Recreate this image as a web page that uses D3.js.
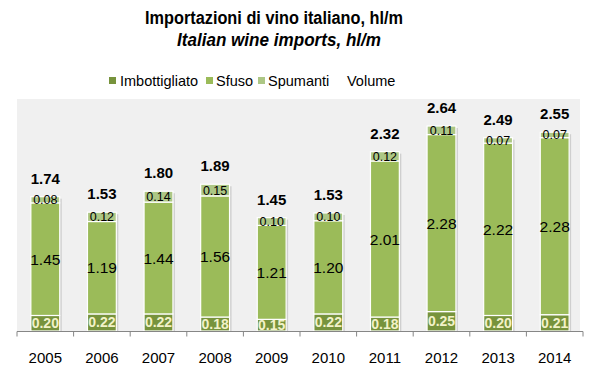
<!DOCTYPE html>
<html>
<head>
<meta charset="utf-8">
<script src="https://cdn.jsdelivr.net/npm/d3@7"></script>
<style>
  html, body { margin: 0; padding: 0; background: #fff; }
  svg { display: block; }
  text { font-family: "Liberation Sans", Arial, sans-serif; }
</style>
</head>
<body>
<svg id="chart" width="600" height="378"></svg>
<script>
const years = ["2005","2006","2007","2008","2009","2010","2011","2012","2013","2014"];
const imbottigliato = [0.20,0.22,0.22,0.18,0.15,0.22,0.18,0.25,0.20,0.21];
const sfuso = [1.45,1.19,1.44,1.56,1.21,1.20,2.01,2.28,2.22,2.28];
const spumanti = [0.08,0.12,0.14,0.15,0.10,0.10,0.12,0.11,0.07,0.07];
const volume = [1.74,1.53,1.80,1.89,1.45,1.53,2.32,2.64,2.49,2.55];
const seriesNames = ["Imbottigliato","Sfuso","Spumanti"];
const titleIt = "Importazioni di vino italiano, hl/m";
const titleEn = "Italian wine imports, hl/m";

const colors = ["#77933C", "#9BBB59", "#ADC785"];
const labelColors = ["#F2F2C8", "#000", "#000"];
const labelSizes = [14, 15.5, 12.5];
const labelWeights = ["bold", "normal", "normal"];

const svg = d3.select("#chart");

// plot background
const pLeft = 17, pRight = 583, pTop = 99, pBottom = 331;
svg.append("rect").attr("x", pLeft).attr("y", pTop).attr("width", 563).attr("height", pBottom - pTop).attr("fill", "#F0F0F0");

const x = d3.scaleBand().domain(years).range([pLeft, pRight]).paddingInner(0.49).paddingOuter(0.245);
const y = d3.scaleLinear().domain([0, 2.988]).range([pBottom, pTop]);

const rows = years.map((yr, i) => ({year: yr, Imbottigliato: imbottigliato[i], Sfuso: sfuso[i], Spumanti: spumanti[i]}));
const stacked = d3.stack().keys(seriesNames)(rows);

// shadows
const barTops = rows.map((r, i) => imbottigliato[i] + sfuso[i] + spumanti[i]);
svg.append("g").selectAll("rect").data(years).join("rect")
  .attr("x", d => x(d) + 2)
  .attr("y", (d, i) => y(barTops[i]) + 2)
  .attr("width", x.bandwidth())
  .attr("height", (d, i) => pBottom - y(barTops[i]) - 2)
  .attr("fill", "#CFCFCF");

// bars
stacked.forEach((s, si) => {
  svg.append("g").selectAll("rect").data(s).join("rect")
    .attr("x", d => x(d.data.year))
    .attr("y", d => y(d[1]))
    .attr("width", x.bandwidth())
    .attr("height", d => y(d[0]) - y(d[1]))
    .attr("fill", colors[si])
    .attr("stroke", "#fff")
    .attr("stroke-width", 1.2);
});

// segment labels
stacked.forEach((s, si) => {
  svg.append("g").selectAll("text").data(s).join("text")
    .attr("x", d => x(d.data.year) + x.bandwidth() / 2)
    .attr("y", d => (y(d[0]) + y(d[1])) / 2)
    .attr("dy", "0.36em")
    .attr("text-anchor", "middle")
    .attr("font-size", labelSizes[si])
    .attr("font-weight", labelWeights[si])
    .attr("fill", labelColors[si])
    .text(d => (d[1] - d[0]).toFixed(2));
});

// total labels
svg.append("g").selectAll("text").data(years).join("text")
  .attr("x", d => x(d) + x.bandwidth() / 2)
  .attr("y", (d, i) => y(barTops[i]) - 13)
  .attr("text-anchor", "middle")
  .attr("font-size", 15)
  .attr("font-weight", "bold")
  .attr("fill", "#000")
  .text((d, i) => volume[i].toFixed(2));

// axis
const axisG = svg.append("g").attr("transform", `translate(0,${pBottom + 0.5})`);
axisG.append("line").attr("x1", pLeft).attr("x2", pRight).attr("stroke", "#868686");
const bounds = d3.range(years.length + 1).map(i => pLeft + i * (pRight - pLeft) / years.length);
axisG.selectAll("line.tick").data(bounds).join("line").attr("class", "tick")
  .attr("x1", d => d).attr("x2", d => d).attr("y1", 0).attr("y2", 5).attr("stroke", "#868686");
axisG.selectAll("text").data(years).join("text")
  .attr("x", d => x(d) + x.bandwidth() / 2)
  .attr("y", 31)
  .attr("text-anchor", "middle")
  .attr("font-size", 15)
  .attr("fill", "#000")
  .text(d => d);

// title
svg.append("text").attr("x", 145).attr("y", 24)
  .attr("font-family", "'Liberation Sans Narrow', 'DejaVu Sans Condensed', sans-serif")
  .attr("font-size", 17.5).attr("font-weight", "bold")
  .attr("textLength", 258).attr("lengthAdjust", "spacingAndGlyphs").text(titleIt);
svg.append("text").attr("x", 177).attr("y", 46)
  .attr("font-family", "'Liberation Sans Narrow', 'DejaVu Sans Condensed', sans-serif")
  .attr("font-size", 17.5).attr("font-weight", "bold").attr("font-style", "italic")
  .attr("textLength", 204).attr("lengthAdjust", "spacingAndGlyphs").text(titleEn);

// legend
const legendItems = [
  {name: seriesNames[0], color: colors[0], sx: 109, tx: 120},
  {name: seriesNames[1], color: colors[1], sx: 206, tx: 216},
  {name: seriesNames[2], color: colors[2], sx: 258, tx: 268},
  {name: "Volume", color: null, sx: 0, tx: 347}
];
const lg = svg.append("g");
legendItems.forEach(it => {
  if (it.color) lg.append("rect").attr("x", it.sx).attr("y", 77).attr("width", 7).attr("height", 7).attr("fill", it.color);
  lg.append("text").attr("x", it.tx).attr("y", 85.5).attr("font-size", 14.5).attr("fill", "#000").text(it.name);
});
</script>
</body>
</html>
